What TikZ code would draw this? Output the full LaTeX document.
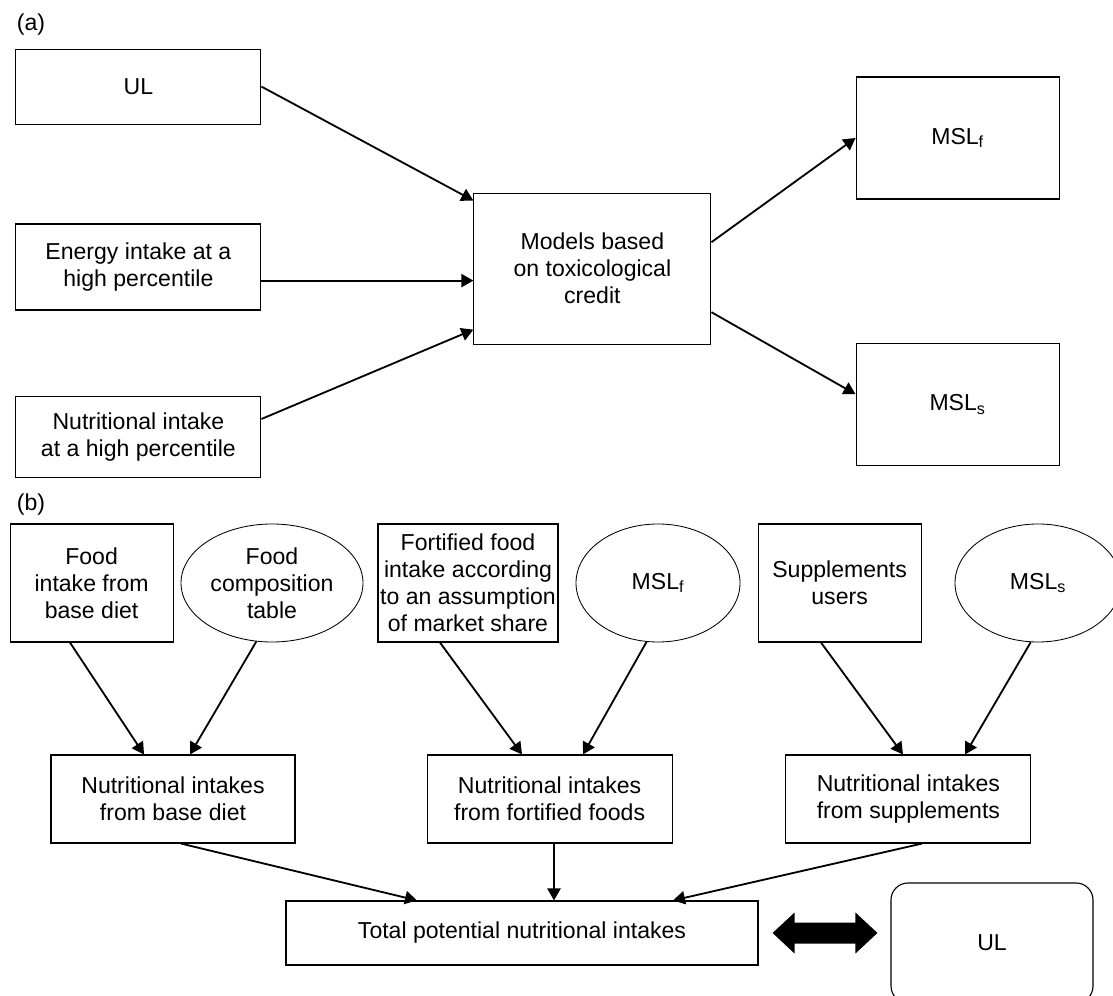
\documentclass[tikz,border=0pt]{standalone}
\usepackage{fontspec}
\setmainfont{Liberation Sans}
\usetikzlibrary{arrows.meta,positioning,shapes.geometric}
\newcommand{\figfont}{\fontsize{16.4}{19.2}\selectfont}

\begin{document}
\begin{tikzpicture}[
  box/.style={draw, line width=0.8pt, minimum width=6.125cm, align=center,
    inner sep=1pt, font=\figfont},
  oval/.style={draw, ellipse, line width=0.6pt, minimum height=2.95cm,
    align=center, inner sep=0pt, font=\figfont},
  tag/.style={anchor=west, inner sep=0pt, font=\figfont},
  ->,>={Triangle[length=0.3cm,width=0.33cm]},line width=1.3pt
]
\useasboundingbox (0,0) rectangle (27.825,24.875);
\clip (0,0) rectangle (27.825,24.875);

% (a)
\node[tag] (taga) at (0.4,24.25) {(a)};
\node[box, minimum height=1.875cm] (ula) at (3.46,22.71) {UL};
\node[box, minimum height=2.15cm] (energy) at (3.46,18.2) {Energy intake at a\\high percentile};
\node[box, minimum height=2.025cm] (nutr) at (3.46,13.96) {Nutritional intake\\at a high percentile};
\node[box, minimum width=5.925cm, minimum height=3.775cm] (models) at (14.81,18.16) {Models based\\on toxicological\\credit};
\node[box, minimum width=5.075cm, minimum height=3.05cm] (mslfa) at (23.94,21.425) {MSL\textsubscript{f}};
\node[box, minimum width=5.075cm, minimum height=3.05cm] (mslsa) at (23.94,14.76) {MSL\textsubscript{s}};

\coordinate (emid) at ([yshift=-0.3cm]models.west);
\draw (ula.east) -- ([yshift=-0.2cm]models.north west);
\draw (emid -| energy.east) -- (emid);
\draw ([yshift=0.44cm]nutr.east) -- ([yshift=0.375cm]models.south west);
\draw ([yshift=0.66cm]models.east) -- (mslfa.west);
\draw ([yshift=-1.09cm]models.east) -- ([yshift=0.26cm]mslsa.west);

% (b)
\node[tag] (tagb) at (0.4,12.25) {(b)};
\node[box, minimum width=4.075cm, minimum height=2.95cm] (fintake) at (2.29,10.3) {Food\\intake from\\base diet};
\node[oval, minimum width=4.55cm] (fcomp) at (6.8,10.3) {Food\\composition\\table};
\node[box, minimum width=4.5cm, minimum height=2.95cm] (fort) at (11.7,10.3) {Fortified food\\intake according\\to an assumption\\of market share};
\node[oval, minimum width=4.1cm] (mslfb) at (16.45,10.3) {MSL\textsubscript{f}};
\node[box, minimum width=4.075cm, minimum height=2.95cm] (supp) at (20.99,10.3) {Supplements\\users};
\node[oval, minimum width=4.15cm] (mslsb) at (25.95,10.3) {MSL\textsubscript{s}};

\node[box, minimum width=6.1cm, minimum height=2.2cm] (base) at (4.325,4.9) {Nutritional intakes\\from base diet};
\node[box, minimum height=2.2cm] (ffood) at (13.74,4.9) {Nutritional intakes\\from fortified foods};
\node[box, minimum height=2.2cm] (suppi) at (22.71,4.9) {Nutritional intakes\\from supplements};

\node[box, minimum width=11.8cm, minimum height=1.6cm] (total) at (13.05,1.55) {Total potential nutritional intakes};
\node[box, rounded corners=0.425cm, minimum width=5.05cm, minimum height=3cm] (ulb) at (24.8,1.3) {UL};

\draw ([xshift=-0.54cm]fintake.south) -- ([xshift=-0.725cm]base.north);
\draw (fcomp.-105) -- ([xshift=0.425cm]base.north);
\draw ([xshift=-0.7cm]fort.south) -- ([xshift=-0.69cm]ffood.north);
\draw (mslfb.-101) -- ([xshift=0.835cm]ffood.north);
\draw ([xshift=-0.465cm]supp.south) -- ([xshift=-0.135cm]suppi.north);
\draw (mslsb.-97) -- ([xshift=1.415cm]suppi.north);

\coordinate (fmid) at ([xshift=0.11cm]ffood.south);
\draw ([xshift=0.2cm]base.south) -- ([xshift=-2.625cm]total.north);
\draw (fmid) -- (fmid |- total.north);
\draw ([xshift=0.34cm]suppi.south) -- ([xshift=3.775cm]total.north);

% compare with UL
\coordinate (dl) at ([xshift=0.35cm]total.east);
\coordinate (dr) at ([xshift=-0.325cm]ulb.west |- total.east);
\fill[-] (dl) -- ([shift={(0.55,0.5125)}]dl) -- ([shift={(0.55,0.2625)}]dl)
  -- ([shift={(-0.55,0.2625)}]dr) -- ([shift={(-0.55,0.5125)}]dr) -- (dr)
  -- ([shift={(-0.55,-0.5125)}]dr) -- ([shift={(-0.55,-0.2625)}]dr)
  -- ([shift={(0.55,-0.2625)}]dl) -- ([shift={(0.55,-0.5125)}]dl) -- cycle;
\end{tikzpicture}
\end{document}
